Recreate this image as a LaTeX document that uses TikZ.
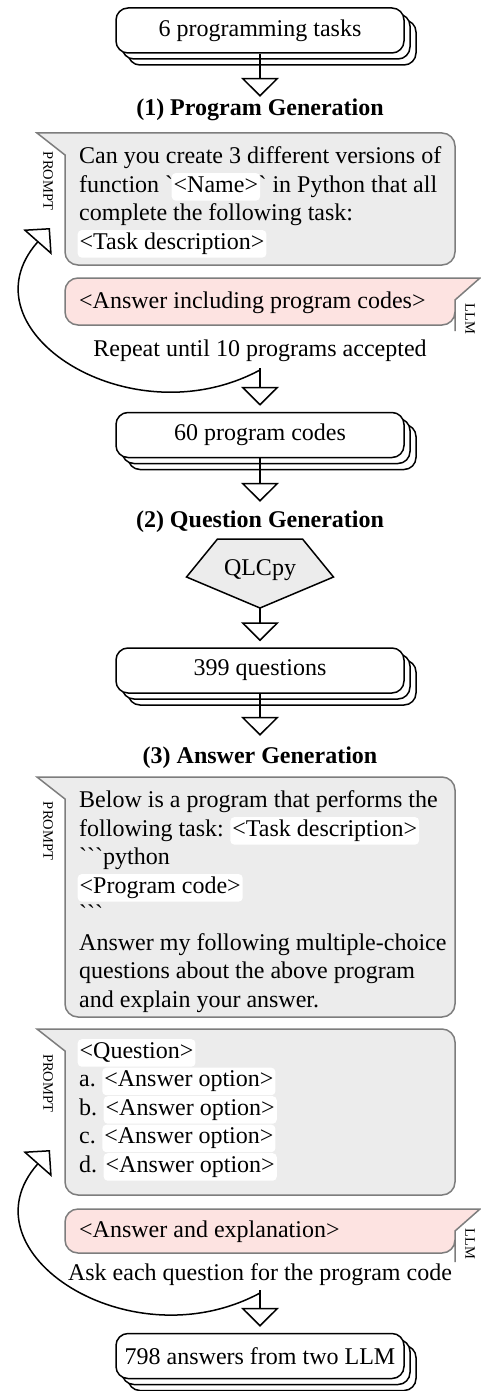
\documentclass[tikz,border=0pt]{standalone}
\usepackage{fontspec}
\setmainfont{Liberation Serif}
\usetikzlibrary{arrows.meta,shadows}
\definecolor{promptgray}{RGB}{236,236,236}
\definecolor{llmpink}{RGB}{253,227,225}
\definecolor{framegray}{RGB}{125,125,125}
\newcommand\mainsize{\fontsize{24}{28.5}\selectfont}
\newcommand\tagsize{\fontsize{14.5}{16}\selectfont}
\newcommand\bt{\textasciigrave}
\newcommand\slot[1]{\kern-1.5pt\tikz[baseline=(s.base)]\node[slotmark](s){#1};\kern-1.5pt}
\def\promptbubble(#1,#2){\draw[promptbox] (65,#1+22) -- (37,#1) -- (90,#1) {[rounded corners=13pt] -- (455,#1) -- (455,#2) -- (65,#2) -- (65,#1+45)} -- cycle;}
\def\llmbubble(#1,#2){\draw[llmbox] (455,#1+22) -- (480,#1) -- (430,#1) {[rounded corners=13pt] -- (65,#1) -- (65,#2) -- (455,#2) -- (455,#1+40)} -- cycle;}
\tikzset{
  slotmark/.style={fill=white, rounded corners=4pt, anchor=base, inner xsep=2pt, inner ysep=3pt, text height=16pt, text depth=5.5pt},
  promptbox/.style={draw=framegray, fill=promptgray, line width=1.5pt},
  llmbox/.style={draw=framegray, fill=llmpink, line width=1.5pt},
}
\begin{document}
\begin{tikzpicture}[x=1pt, y=-1pt,
  stackbox/.style={draw, line width=1.5pt, fill=white, rounded corners=12pt,
    minimum width=288pt, minimum height=45pt, inner sep=0pt, font=\mainsize,
    copy shadow={shadow xshift=12pt, shadow yshift=-12pt},
    copy shadow={shadow xshift=6pt, shadow yshift=-6pt}},
  stagetitle/.style={font=\mainsize\bfseries, inner sep=0pt, text height=16pt, text depth=5pt, anchor=base},
  note/.style={font=\mainsize, inner sep=0pt, text height=16pt, text depth=5pt, anchor=base},
  bubbletext/.style={font=\mainsize, align=left, inner sep=0pt, anchor=north west},
  replytext/.style={font=\mainsize, inner sep=0pt, anchor=base west},
  tag/.style={font=\tagsize, inner sep=0pt, rotate=-90},
  flow/.style={draw, line width=1.5pt, -{Triangle[length=19pt, width=38pt, fill=white]}},
  loopback/.style={draw, line width=1.5pt, -{Triangle[length=19pt, width=38pt, fill=white]}},
  qlcshape/.style={draw, fill=promptgray, line width=1.5pt}]
\useasboundingbox (0,0) rectangle (480,1391);

%%% stage 1
\node[stackbox] (tasks) at (260,30.5) {6 programming tasks};
\node[stagetitle] (gen1) at (260,116) {(1) Program Generation};
\draw[flow, shorten >=3pt] (tasks.south) -- (gen1.north);

\promptbubble(133,265)
\node[tag] (p1tag) at (48,181) {PROMPT};
\node[bubbletext] (p1) at (79,146.5) {Can you create 3 different versions of\\
  function \bt\slot{<Name>}\bt{} in Python that all\\
  complete the following task:\\
  \slot{<Task description>}};

\llmbubble(278,325)
\node[tag] (a1tag) at (470,319) {LLM};
\node[replytext] (a1) at (79,308) {<Answer including program codes>};

\node[note] (rep1) at (260,356) {Repeat until 10 programs accepted};
\node[stackbox] (codes) at (260,435) {60 program codes};
\draw[flow, shorten <=7pt, shorten >=6pt] (rep1.south) -- (codes.north);
\coordinate (loop1) at (260,370);
\coordinate (p1in) at (50,228);
\draw[loopback] (loop1) .. controls +(-130,70) and +(-90,102) .. (p1in);

%%% stage 2
\node[stagetitle] (gen2) at (260,527) {(2) Question Generation};
\draw[flow, shorten >=9pt] (codes.south) -- (gen2.north);
\draw[qlcshape] (217.5,539) -- (302.5,539) -- (333.5,577) -- (260,608) -- (186.5,577) -- cycle;
\node[font=\mainsize, inner sep=0pt, anchor=base] (qlc) at (260,575) {QLCpy};
\coordinate (qlcS) at (260,608);
\node[stackbox] (quest) at (260,670.5) {399 questions};
\draw[flow, shorten >=6pt] (qlcS) -- (quest.north);

%%% stage 3
\node[stagetitle] (gen3) at (260,763) {(3) Answer Generation};
\draw[flow, shorten >=11pt] (quest.south) -- (gen3.north);

\promptbubble(777,1017)
\node[tag] (p2tag) at (48,831) {PROMPT};
\node[bubbletext] (p2) at (79,790.5) {Below is a program that performs the\\
  following task: \slot{<Task description>}\\
  \bt\bt\bt python\\
  \slot{<Program code>}\\
  \bt\bt\bt\\
  Answer my following multiple-choice\\
  questions about the above program\\
  and explain your answer.};

\promptbubble(1029,1195)
\node[tag] (p3tag) at (48,1083) {PROMPT};
\node[bubbletext] (p3) at (79,1039) {\slot{<Question>}\\
  a. \slot{<Answer option>}\\
  b. \slot{<Answer option>}\\
  c. \slot{<Answer option>}\\
  d. \slot{<Answer option>}};

\llmbubble(1209,1253)
\node[tag] (a2tag) at (470,1244) {LLM};
\node[replytext] (a2) at (79,1237) {<Answer and explanation>};

\node[note] (ask) at (260,1280) {Ask each question for the program code};
\node[stackbox] (answers) at (260,1356) {798 answers from two LLM};
\draw[flow, shorten <=5pt, shorten >=6pt] (ask.south) -- (answers.north);
\coordinate (loop2) at (260,1293);
\coordinate (p3in) at (50,1150);
\draw[loopback] (loop2) .. controls +(-130,70) and +(-90,102) .. (p3in);
\end{tikzpicture}
\end{document}
